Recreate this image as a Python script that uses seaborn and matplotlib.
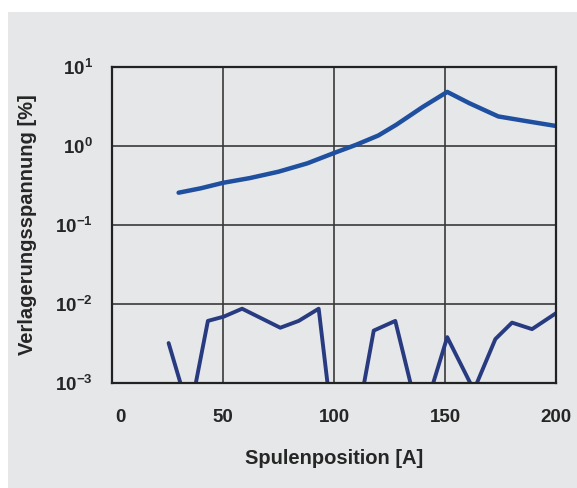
import matplotlib
matplotlib.use("Agg")
import matplotlib.pyplot as plt
import matplotlib.transforms as mtrans
import seaborn as sns
import pandas as pd
from matplotlib.patches import Rectangle

# obere Kurve (Verlagerungsspannung, Hauptkurve)
x_oben = [30, 40, 50, 62, 75, 88, 100, 110, 120, 128, 140, 151, 161, 174, 188, 200]
y_oben = [0.255, 0.29, 0.34, 0.39, 0.47, 0.60, 0.81, 1.03, 1.35, 1.84, 3.1, 4.8, 3.45, 2.35, 2.02, 1.78]

# untere Kurve (Rauschen nahe 10^-3)
x_unten = [25.5, 35, 43.2, 50.3, 58.6, 75.8, 84.1, 93.1, 100, 109, 117.9, 127.6, 139,
           151, 163, 172.7, 180.2, 189.2, 200.5]
y_unten = [3.2e-3, 4e-4, 6.1e-3, 6.9e-3, 8.7e-3, 5.0e-3, 6.1e-3, 8.7e-3, 2e-4, 2e-4,
           4.6e-3, 6.1e-3, 3e-4, 3.8e-3, 8.1e-4, 3.6e-3, 5.8e-3, 4.8e-3, 7.8e-3]

x_ticks = [0, 50, 100, 150, 200]
y_ticks = [1e-3, 1e-2, 1e-1, 1e0, 1e1]
y_labels = ['10$^{-3}$', '10$^{-2}$', '10$^{-1}$', '10$^{0}$', '10$^{1}$']

df_oben = pd.DataFrame({'x': x_oben, 'y': y_oben})
df_unten = pd.DataFrame({'x': x_unten, 'y': y_unten})

sns.set_style('white')
plt.rcParams['font.family'] = ['Liberation Sans', 'DejaVu Sans']
plt.rcParams['font.weight'] = 'bold'
plt.rcParams['mathtext.fontset'] = 'custom'
plt.rcParams['mathtext.rm'] = 'Liberation Sans:bold'
plt.rcParams['mathtext.bf'] = 'Liberation Sans:bold'
plt.rcParams['mathtext.default'] = 'bf'

grau = '#e6e7e9'
fig = plt.figure(figsize=(5.77, 4.88), dpi=100)
fig.patch.set_facecolor('white')
fig.patches.append(Rectangle((8 / 577, 0), 1, 1 - 12 / 488, transform=fig.transFigure,
                             facecolor=grau, edgecolor='none', zorder=-10))
ax = fig.add_axes([112 / 577, 1 - 383 / 488, (556 - 112) / 577, (383 - 66.7) / 488])
ax.set_facecolor(grau)

sns.lineplot(data=df_oben, x='x', y='y', ax=ax, color='#1f4f9f', linewidth=3.2)
sns.lineplot(data=df_unten, x='x', y='y', ax=ax, color='#283b80', linewidth=2.8)

ax.set_yscale('log')
ax.set_xlim(0, 200)
ax.set_ylim(1e-3, 1e1)
ax.set_xticks(x_ticks)
ax.set_xticklabels([str(v) for v in x_ticks])
ax.set_yticks(y_ticks)
ax.set_yticklabels(y_labels)
ax.minorticks_off()
ax.tick_params(axis='both', length=0, labelsize=13.5)
ax.tick_params(axis='x', pad=19)
ax.tick_params(axis='y', pad=14)
for lab in ax.get_xticklabels() + ax.get_yticklabels():
    lab.set_fontweight('bold')
# "0" sitzt im Original etwas rechts von der Achse
null_lab = ax.get_xticklabels()[0]
null_lab.set_transform(null_lab.get_transform() +
                       mtrans.ScaledTranslation(0.08, 0, fig.dpi_scale_trans))

ax.grid(True, color='#3a3a3a', linewidth=1.2)
for s in ax.spines.values():
    s.set_color('#222222')
    s.set_linewidth(1.6)

ax.set_xlabel('Spulenposition [A]', fontsize=14.5, fontweight='bold', labelpad=16)
ax.set_ylabel('Verlagerungsspannung [%]', fontsize=14.5, fontweight='bold', labelpad=13)

fig.savefig('out.png', dpi=100, facecolor=fig.get_facecolor())
